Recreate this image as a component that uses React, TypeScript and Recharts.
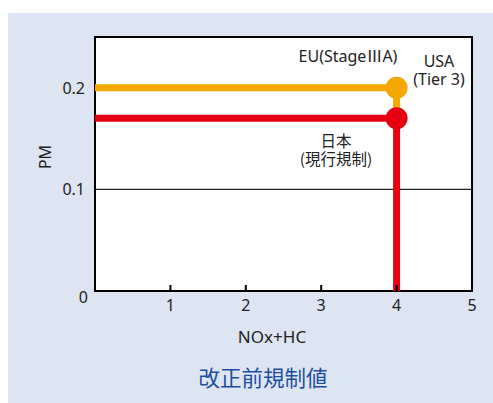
import { LineChart, Line, XAxis, YAxis, CartesianGrid, ReferenceLine, ReferenceArea } from "recharts"

// step lines: horizontal to NOx+HC = 4, then straight down
const euUsa = [
  { x: 0, y: 0.2 },
  { x: 4, y: 0.2 },
  { x: 4, y: 0.17 },
]
const japan = [
  { x: 0, y: 0.17 },
  { x: 4, y: 0.17 },
  { x: 4, y: 0 },
]
const xTicks = [0, 1, 2, 3, 4, 5]
const yTicks = [0, 0.1, 0.2]
const xMax = 5
const yMax = 0.25

const ORANGE = "#f5a800"
const RED = "#e60012"
const TEXT = "#222"
const LATIN = "'Noto Sans', 'Noto Sans CJK JP', sans-serif"
const CJK = "'Noto Sans CJK JP', 'Noto Sans', sans-serif"
const X_GAP = 14

function XTick({ x, y, payload }: any) {
  const v = payload.value
  if (v === 0) return null
  const axisY = y - X_GAP
  return (
    <g>
      {v < xMax && <line x1={x} x2={x} y1={axisY} y2={axisY - 6} stroke="#000" strokeWidth={2} />}
      <text x={x} y={y} textAnchor="middle" dominantBaseline="central" fontSize={16} fill={TEXT} fontFamily={LATIN}>
        {v}
      </text>
    </g>
  )
}

function YTick({ x, y, payload }: any) {
  const v = payload.value
  const zero = v === 0
  return (
    <text
      x={zero ? x + 3 : x}
      y={zero ? y + 6 : y}
      textAnchor="end"
      dominantBaseline="central"
      fontSize={16}
      fill={TEXT}
      fontFamily={LATIN}
    >
      {zero ? "0" : v.toFixed(1)}
    </text>
  )
}

function cornerDot(color: string) {
  return (p: any) => {
    if (p.index !== 1) return <g key={p.index} />
    return <circle key={p.index} cx={p.cx} cy={p.cy} r={11} fill={color} />
  }
}

const note = (cx: number, cy: number, lines: string[], size = 16, font = LATIN, color = TEXT) => (
  <div
    style={{
      position: "absolute",
      left: cx,
      top: cy,
      transform: "translate(-50%, -50%)",
      fontSize: size,
      color,
      fontFamily: font,
      lineHeight: "18px",
      whiteSpace: "nowrap",
      textAlign: "center",
    }}
  >
    {lines.map((l, i) => (
      <span key={i}>
        {i > 0 && <br />}
        {l}
      </span>
    ))}
  </div>
)

export default function App() {
  return (
    <div style={{ position: "absolute", left: 0, top: 0, width: 493, height: 403, background: "#fff", overflow: "hidden" }}>
      <div style={{ position: "absolute", left: 8, top: 13, width: 485, height: 390, background: "#dee5f2" }} />
      <div style={{ position: "absolute", left: 0, top: 0 }}>
        <LineChart width={493} height={403} margin={{ top: 37, right: 21, bottom: 82, left: 35 }}>
          <CartesianGrid fill="#fff" horizontal={false} vertical={false} />
          <XAxis
            type="number"
            dataKey="x"
            domain={[0, xMax]}
            ticks={xTicks}
            axisLine={false}
            tickLine={false}
            tickSize={0}
            tickMargin={X_GAP}
            height={30}
            tick={<XTick />}
          />
          <YAxis
            type="number"
            dataKey="y"
            domain={[0, yMax]}
            ticks={yTicks}
            allowDataOverflow
            axisLine={false}
            tickLine={false}
            tickSize={0}
            tickMargin={10}
            width={60}
            tick={<YTick />}
          />
          <ReferenceLine y={0.1} stroke="#222" strokeWidth={1.3} />
          <ReferenceArea x1={0} x2={xMax} y1={0} y2={yMax} fill="none" stroke="#000" strokeWidth={2} />
          <Line
            data={euUsa}
            dataKey="y"
            type="linear"
            stroke={ORANGE}
            strokeWidth={7}
            dot={cornerDot(ORANGE)}
            activeDot={false}
            isAnimationActive={false}
          />
          <Line
            data={japan}
            dataKey="y"
            type="linear"
            stroke={RED}
            strokeWidth={7}
            dot={cornerDot(RED)}
            activeDot={false}
            isAnimationActive={false}
          />
        </LineChart>
      </div>
      {note(348, 56, ["EU(StageⅢA)"])}
      {note(439, 70, ["USA", "(Tier 3)"])}
      {note(336, 149, ["日本", "(現行規制)"], 15.5, CJK)}
      {note(272, 337, ["NOx+HC"], 17)}
      <div
        style={{
          position: "absolute",
          left: 45,
          top: 157,
          transform: "translate(-50%, -50%) rotate(-90deg)",
          fontSize: 16,
          color: TEXT,
          fontFamily: LATIN,
          lineHeight: 1,
        }}
      >
        PM
      </div>
      {note(263, 377, ["改正前規制値"], 21.5, CJK, "#1d4f9e")}
    </div>
  )
}
